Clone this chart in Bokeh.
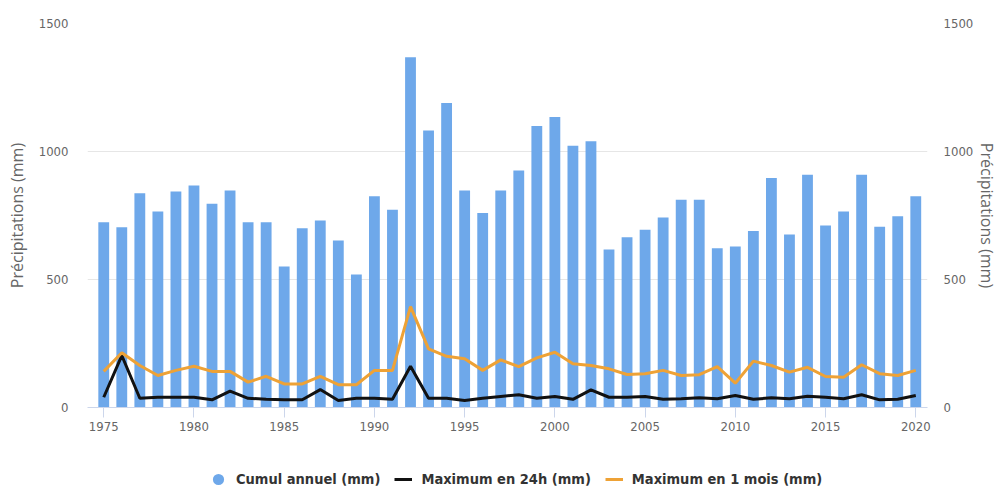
from bokeh.plotting import figure
from bokeh.layouts import column
from bokeh.models import (ColumnDataSource, LinearAxis, Range1d, Legend, LegendItem,
                          FixedTicker)
from bokeh.embed import file_html
from bokeh.resources import INLINE

years = list(range(1975, 2021))
cumul = [724, 704, 837, 766, 844, 867, 796, 848, 724, 724,
         551, 700, 730, 652, 520, 825, 772, 1368, 1082, 1189,
         848, 760, 848, 926, 1100, 1135, 1022, 1040, 617, 665,
         694, 742, 812, 812, 622, 629, 689, 896, 676, 909,
         711, 766, 909, 706, 747, 825]
max24 = [40, 203, 36, 40, 40, 40, 30, 64, 36, 32,
         30, 30, 70, 27, 36, 36, 32, 161, 36, 36,
         27, 36, 43, 50, 36, 43, 32, 69, 40, 40,
         43, 32, 34, 38, 34, 47, 32, 38, 34, 44,
         40, 34, 50, 30, 32, 47]
max1m = [141, 214, 164, 125, 145, 161, 141, 141, 99, 122,
         92, 92, 122, 89, 89, 145, 145, 394, 229, 200,
         190, 145, 186, 160, 194, 216, 171, 164, 151, 129,
         132, 145, 125, 128, 160, 95, 181, 164, 138, 157,
         121, 118, 167, 132, 125, 145]

y_ticks = [0, 500, 1000, 1500]
x_ticks = list(range(1975, 2021, 5))
axis_title = "Précipitations (mm)"
legend_labels = ["Cumul annuel (mm)", "Maximum en 24h (mm)", "Maximum en 1 mois (mm)"]

BAR = "#6ea8ea"
ORANGE = "#eea236"
BLACK = "#111111"
TICK_FONT = "Liberation Sans Narrow, DejaVu Sans Condensed, sans-serif"

src = ColumnDataSource(dict(year=years, cumul=cumul, max24=max24, max1m=max1m))

p = figure(width=1002, height=467, output_backend="svg", toolbar_location=None,
           x_range=Range1d(1974.1, 2020.65), y_range=Range1d(0, 1500),
           min_border_left=87, min_border_right=75, min_border_top=23,
           min_border_bottom=60, outline_line_color=None)

p.vbar(x="year", top="cumul", width=0.6, source=src, fill_color=BAR, line_color=None)
p.line(x="year", y="max24", source=src, line_color=BLACK, line_width=3)
p.line(x="year", y="max1m", source=src, line_color=ORANGE, line_width=3)

# axes
p.xaxis.ticker = FixedTicker(ticks=x_ticks)
p.xaxis.minor_tick_line_color = None
p.xaxis.minor_tick_out = 0
p.xaxis.major_tick_in = 0
p.xaxis.major_tick_out = 10
p.xaxis.major_tick_line_color = "#ccd6eb"
p.xaxis.axis_line_color = "#ccd6eb"
p.xaxis.major_label_text_font = TICK_FONT
p.xaxis.major_label_text_font_size = "13px"
p.xaxis.major_label_text_color = "#666666"
p.xaxis.major_label_standoff = 4

p.yaxis.ticker = FixedTicker(ticks=y_ticks)
p.extra_y_ranges = {"r": Range1d(0, 1500)}
raxis = LinearAxis(y_range_name="r", ticker=FixedTicker(ticks=y_ticks))
p.add_layout(raxis, "right")

for ax in (p.yaxis[0], raxis):
    ax.axis_line_color = None
    ax.major_tick_line_color = None
    ax.minor_tick_line_color = None
    ax.major_tick_in = 0
    ax.major_tick_out = 0
    ax.minor_tick_in = 0
    ax.minor_tick_out = 0
    ax.major_label_text_font = TICK_FONT
    ax.major_label_text_font_size = "13px"
    ax.major_label_text_color = "#666666"
    ax.axis_label = axis_title
    ax.axis_label_text_font = "Open Sans"
    ax.axis_label_text_font_size = "16px"
    ax.axis_label_text_font_style = "normal"
    ax.axis_label_text_color = "#666666"
p.yaxis[0].major_label_standoff = 19
p.yaxis[0].axis_label_standoff = 8
raxis.major_label_standoff = 16
raxis.axis_label_standoff = 0

p.xgrid.grid_line_color = None
p.ygrid.grid_line_color = "#e6e6e6"
p.ygrid.ticker = FixedTicker(ticks=y_ticks)

# legend strip (separate figure below the chart)
lg = figure(width=1002, height=22, output_backend="svg", toolbar_location=None,
            x_range=Range1d(0, 1), y_range=Range1d(0, 1),
            x_axis_location=None, y_axis_location=None,
            min_border=0, outline_line_color=None)
lg.xgrid.visible = False
lg.ygrid.visible = False
dot = lg.scatter(x="year", y="cumul", source=src, marker="circle", size=11,
                 fill_color=BAR, line_color=BAR, line_width=4, visible=False)
s24 = lg.line(x="year", y="max24", source=src, line_color=BLACK, line_width=3,
              visible=False)
s1m = lg.line(x="year", y="max1m", source=src, line_color=ORANGE, line_width=3,
              visible=False)
legend = Legend(items=[LegendItem(label=legend_labels[0], renderers=[dot]),
                       LegendItem(label=legend_labels[1], renderers=[s24]),
                       LegendItem(label=legend_labels[2], renderers=[s1m])],
                orientation="horizontal", location=(122, 0), margin=0,
                label_text_font=TICK_FONT, label_text_font_size="14.5px",
                label_text_font_style="bold", label_text_color="#333333",
                glyph_width=18, glyph_height=20, spacing=14, padding=0,
                label_standoff=9, background_fill_alpha=0, border_line_color=None,
                inactive_fill_alpha=0)
lg.add_layout(legend, "center")

layout = column(p, lg, spacing=0)
open("out.html", "w").write(file_html(layout, INLINE))
